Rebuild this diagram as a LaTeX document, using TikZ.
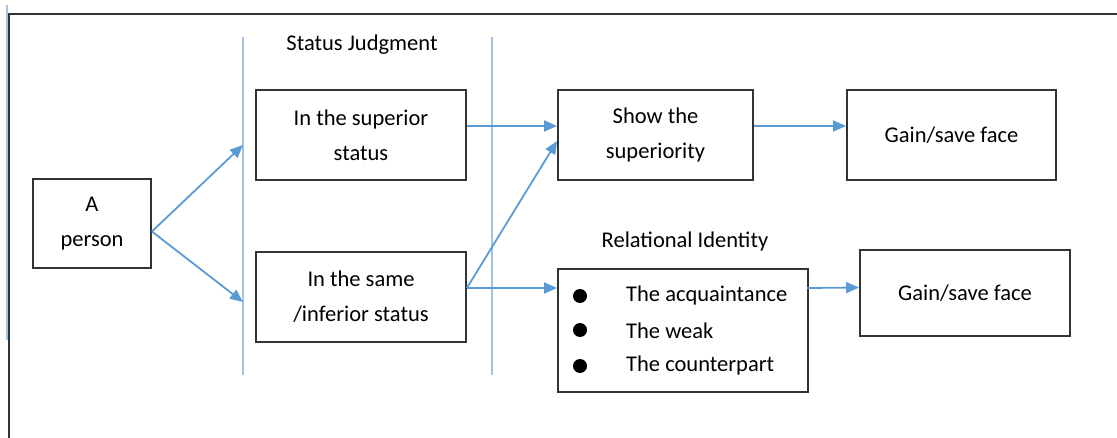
\documentclass[tikz,border=0pt]{standalone}
\usepackage{fontspec}
\setmainfont{Carlito}
\usetikzlibrary{arrows.meta,calc}
\definecolor{arrowblue}{HTML}{5B9BD5}
\definecolor{lineblue}{HTML}{9DC3E6}
\begin{document}
\begin{tikzpicture}[x=1pt,y=-1pt,
  every node/.style={font=\fontsize{22.5}{35}\selectfont, text=black},
  boxnode/.style={draw=black!80, line width=1.8pt, inner sep=0pt, align=center},
  conn/.style={draw=arrowblue, line width=1.8pt, -{Triangle[length=13pt,width=11pt]}},
  divider/.style={draw=lineblue, line width=1.3pt}
]
\useasboundingbox (0,0) rectangle (1117,438);
% frame
\draw[lineblue, line width=1.3pt] (7,5) -- (7,340);
\draw[black!80, line width=2pt] (9,438) -- (9,14) -- (1117,14);
% dividers
\draw[divider] (243,37) -- (243,375);
\draw[divider] (492,37) -- (492,375);
% labels
\node (sj) at (362,45) {Status Judgment};
\node (ri) at (685,242) {Relational Identity};
% boxes
\node[boxnode, minimum width=118pt, minimum height=89pt] (person) at (92,223.5) {A\\person};
\node[boxnode, minimum width=210pt, minimum height=90pt] (sup) at (361,135) {In the superior\\status};
\node[boxnode, minimum width=210pt, minimum height=90pt] (same) at (361,297) {In the same\\/inferior status};
\node[boxnode, minimum width=195pt, minimum height=90pt] (show) at (655.5,135) {Show the\\superiority};
\node[boxnode, minimum width=209pt, minimum height=90pt] (gain1) at (951.5,135) {Gain/save face};
\node[boxnode, minimum width=250pt, minimum height=123pt] (list) at (683,330.5) {};
\node[boxnode, minimum width=210pt, minimum height=86pt] (gain2) at (965,293) {Gain/save face};
% list contents
\fill (580,296) circle (7pt);
\fill (580,330) circle (7pt);
\fill (580,366) circle (7pt);
\node[anchor=west, inner sep=0pt] (l1) at (626,296) {The acquaintance};
\node[anchor=west, inner sep=0pt] (l2) at (626,331) {The weak};
\node[anchor=west, inner sep=0pt] (l3) at (626,366) {The counterpart};
% connectors
\coordinate (t1) at (243,145);
\coordinate (t2) at (243,302);
\coordinate (pe) at ($(person.east)+(0,8)$);
\draw[conn] (pe) -- (t1);
\draw[conn] (pe) -- (t2);
\draw[conn] ($(sup.east)+(0,-9)$) -- ($(show.west)+(0,-9)$);
\coordinate (se) at ($(same.east)+(0,-9)$);
\coordinate (le) at ($(list.west)+(0,-42.5)$);
\draw[conn] (se) -- (le);
\draw[conn] (se) -- ($(show.west)+(0,6)$);
\draw[conn] ($(show.east)+(0,-9)$) -- ($(gain1.west)+(0,-9)$);
\draw[conn] ($(le)+(250,0)$) -- ($(gain2.west)+(0,-5.5)$);
\end{tikzpicture}
\end{document}
